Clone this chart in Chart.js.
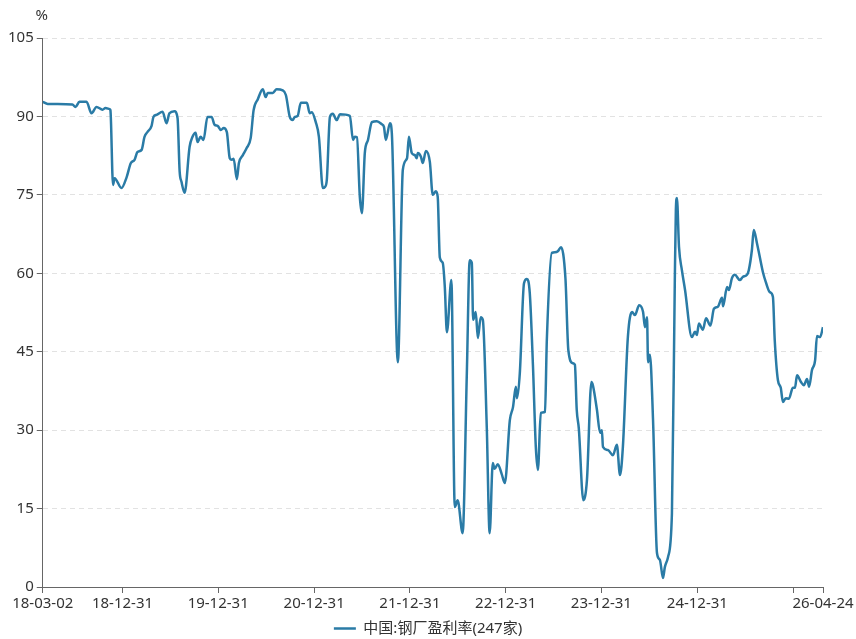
<!DOCTYPE html>
<html lang="zh">
<head>
    <meta charset="UTF-8">
    <title>中国:钢厂盈利率(247家)</title>
    <script src="https://cdn.jsdelivr.net/npm/chart.js"></script>
    <style>
        body {
            margin: 0;
            padding: 0;
            background: #fff;
        }
        #wrap {
            width: 856px;
            height: 639px;
        }
    </style>
</head>
<body>
    <div id="wrap"><canvas id="chart"></canvas></div>

    <script>
        // series name and unit
        const seriesName = '中国:钢厂盈利率(247家)';
        const unitLabel = '%';

        // x axis ticks (dates) and the labels shown under them
        const xTickDates = ['2018-03-02', '2018-12-31', '2019-12-31', '2020-12-31', '2021-12-31',
            '2022-12-31', '2023-12-31', '2024-12-31', '2025-12-31', '2026-04-24'];
        const xTickLabels = ['18-03-02', '18-12-31', '19-12-31', '20-12-31', '21-12-31',
            '22-12-31', '23-12-31', '24-12-31', '', '26-04-24'];

        // y axis
        const yMin = 0;
        const yMax = 105;
        const yStep = 15;

        const dates = [
            '2018-03-02', '2018-03-21', '2018-06-23', '2018-07-05', '2018-07-20', '2018-08-16', '2018-09-04',
            '2018-09-23', '2018-10-16', '2018-10-27', '2018-11-12', '2018-11-15', '2018-11-25', '2018-12-01',
            '2018-12-27', '2019-01-16', '2019-02-01', '2019-02-15', '2019-02-26', '2019-03-14', '2019-03-25',
            '2019-04-05', '2019-04-21', '2019-04-28', '2019-05-10', '2019-06-02', '2019-06-17', '2019-06-28',
            '2019-07-17', '2019-07-29', '2019-08-06', '2019-08-13', '2019-08-25', '2019-09-13', '2019-09-24',
            '2019-10-06', '2019-10-13', '2019-10-25', '2019-11-05', '2019-11-20', '2019-12-06', '2019-12-17',
            '2019-12-29', '2020-01-10', '2020-01-21', '2020-02-02', '2020-02-13', '2020-02-21', '2020-02-28',
            '2020-03-11', '2020-03-19', '2020-04-03', '2020-04-18', '2020-05-03', '2020-05-14', '2020-05-30',
            '2020-06-18', '2020-06-29', '2020-07-07', '2020-07-26', '2020-08-10', '2020-09-02', '2020-09-14',
            '2020-09-29', '2020-10-10', '2020-10-18', '2020-10-29', '2020-11-10', '2020-12-03', '2020-12-14',
            '2020-12-22', '2021-01-06', '2021-01-18', '2021-02-02', '2021-02-10', '2021-02-17', '2021-03-01',
            '2021-03-12', '2021-03-27', '2021-04-08', '2021-05-16', '2021-05-28', '2021-06-04', '2021-06-12',
            '2021-06-23', '2021-07-01', '2021-07-12', '2021-07-24', '2021-08-08', '2021-08-27', '2021-09-15',
            '2021-09-23', '2021-09-30', '2021-10-16', '2021-10-23', '2021-11-15', '2021-12-04', '2021-12-20',
            '2021-12-27', '2022-01-07', '2022-01-19', '2022-01-26', '2022-01-30', '2022-02-11', '2022-02-18',
            '2022-03-02', '2022-03-17', '2022-03-28', '2022-04-09', '2022-04-16', '2022-04-24', '2022-05-05',
            '2022-05-13', '2022-05-21', '2022-06-07', '2022-06-20', '2022-07-01', '2022-07-20', '2022-08-05',
            '2022-08-16', '2022-08-24', '2022-08-29', '2022-09-08', '2022-09-16', '2022-09-27', '2022-10-05',
            '2022-10-20', '2022-10-31', '2022-11-12', '2022-11-19', '2022-12-01', '2022-12-16', '2022-12-28',
            '2023-01-16', '2023-01-28', '2023-02-08', '2023-02-12', '2023-02-23', '2023-03-11', '2023-03-22',
            '2023-04-02', '2023-04-14', '2023-04-25', '2023-05-03', '2023-05-14', '2023-05-30', '2023-06-06',
            '2023-06-25', '2023-07-07', '2023-07-18', '2023-07-30', '2023-08-16', '2023-08-27', '2023-09-13',
            '2023-09-21', '2023-09-28', '2023-10-06', '2023-10-23', '2023-11-06', '2023-11-23', '2023-11-29',
            '2023-12-14', '2023-12-26', '2024-01-02', '2024-01-06', '2024-01-25', '2024-02-13', '2024-02-28',
            '2024-03-11', '2024-03-22', '2024-04-10', '2024-04-26', '2024-05-07', '2024-05-23', '2024-06-07',
            '2024-06-14', '2024-06-22', '2024-06-26', '2024-07-03', '2024-07-15', '2024-07-30', '2024-08-10',
            '2024-08-22', '2024-08-29', '2024-09-10', '2024-09-25', '2024-10-06', '2024-10-10', '2024-10-14',
            '2024-10-22', '2024-11-02', '2024-11-14', '2024-12-10', '2024-12-22', '2024-12-29', '2025-01-06',
            '2025-01-21', '2025-02-02', '2025-02-19', '2025-03-04', '2025-03-19', '2025-04-04', '2025-04-08',
            '2025-04-23', '2025-04-30', '2025-05-12', '2025-05-23', '2025-06-11', '2025-06-22', '2025-07-08',
            '2025-07-15', '2025-07-27', '2025-08-03', '2025-08-15', '2025-08-26', '2025-09-07', '2025-09-18',
            '2025-10-03', '2025-10-15', '2025-10-22', '2025-11-03', '2025-11-14', '2025-11-22', '2025-12-03',
            '2025-12-15', '2025-12-30', '2026-01-07', '2026-01-15', '2026-01-30', '2026-02-10', '2026-02-22',
            '2026-03-02', '2026-03-13', '2026-03-25', '2026-04-01', '2026-04-13', '2026-04-24'
        ];

        // profit rate, %
        const values = [
            92.8, 92.4, 92.3, 91.8, 92.8, 92.8, 90.6,
            91.8, 91.3, 91.6, 91.4, 91.2, 76.9, 78.2,
            76.3, 78.4, 81.1, 81.7, 83.2, 83.6, 86.1,
            87.0, 88.2, 89.9, 90.3, 90.9, 88.7, 90.6,
            91.0, 89.7, 79.5, 77.5, 75.4, 84.2, 86.1,
            86.9, 85.1, 86.1, 85.5, 89.9, 89.9, 88.4,
            88.2, 87.4, 87.8, 87.0, 82.0, 81.7, 81.9,
            78.0, 81.1, 82.6, 84.0, 85.9, 91.2, 93.3,
            95.2, 93.7, 94.5, 94.5, 95.2, 95.0, 94.1,
            89.9, 89.3, 89.9, 90.1, 92.6, 92.6, 90.6,
            90.8, 88.9, 86.1, 76.3, 76.5, 77.8, 89.9,
            90.5, 89.3, 90.4, 90.1, 85.5, 86.1, 86.0,
            74.6, 71.5, 83.0, 85.5, 88.9, 89.1, 88.5,
            88.0, 85.5, 88.7, 86.8, 43.0, 79.8, 82.0,
            86.1, 83.0, 82.6, 82.0, 83.0, 82.3, 81.1,
            83.4, 81.3, 75.0, 75.7, 74.6, 63.0, 62.0,
            57.4, 48.7, 58.7, 15.3, 16.6, 10.3, 40.9,
            62.5, 62.0, 51.1, 52.6, 47.6, 51.6, 51.1,
            30.6, 10.3, 23.7, 22.6, 23.5, 21.6, 19.9,
            31.9, 34.4, 38.3, 36.1, 40.9, 58.1, 58.9,
            56.2, 42.5, 26.8, 22.4, 33.3, 33.5, 47.2,
            63.9, 64.0, 64.2, 65.0, 59.0, 45.3, 42.8,
            42.5, 33.9, 30.3, 16.6, 20.5, 39.2, 38.5,
            33.9, 29.5, 30.0, 26.8, 26.2, 25.2, 27.2,
            21.4, 26.8, 47.8, 52.6, 52.0, 53.9, 52.6,
            49.7, 51.6, 43.0, 44.4, 31.9, 6.5, 5.2,
            1.7, 3.8, 5.7, 14.1, 58.7, 72.1, 74.4,
            65.0, 60.6, 56.8, 47.8, 48.8, 48.2, 50.4,
            49.2, 51.4, 50.0, 53.2, 53.6, 55.3, 53.7,
            57.4, 56.8, 59.1, 59.7, 58.7, 59.3, 59.7,
            60.6, 64.5, 68.3, 65.8, 63.1, 60.2, 58.3,
            56.4, 55.5, 47.2, 39.6, 38.1, 35.4, 36.1,
            36.0, 38.1, 38.1, 40.5, 39.2, 38.6, 39.8,
            38.3, 41.5, 43.4, 48.0, 47.8, 49.7
        ];

        const lineColor = '#2a7ba6';
        const fontFamily = "'Noto Sans', 'Noto Sans CJK SC', sans-serif";

        function toTs(s) {
            const p = s.split('-').map(Number);
            return Date.UTC(p[0], p[1] - 1, p[2]);
        }

        const tickTs = xTickDates.map(toTs);
        const points = dates.map((d, i) => ({ x: toTs(d), y: values[i] }));

        // draws the unit above the y axis, and centres the legend on the canvas
        const unitPlugin = {
            id: 'unitLabel',
            afterLayout(chart) {
                const lg = chart.legend;
                if (lg) {
                    lg.left = 0;
                    lg.right = chart.width;
                }
            },
            afterDraw(chart) {
                const ctx = chart.ctx;
                ctx.save();
                ctx.font = '15px ' + fontFamily;
                ctx.fillStyle = '#333';
                ctx.textAlign = 'center';
                ctx.textBaseline = 'middle';
                ctx.fillText(unitLabel, chart.chartArea.left - 1, 16);
                ctx.restore();
            }
        };

        new Chart(document.getElementById('chart'), {
            type: 'line',
            data: {
                datasets: [{
                    label: seriesName,
                    data: points,
                    borderColor: lineColor,
                    backgroundColor: lineColor,
                    borderWidth: 2.5,
                    pointRadius: 0,
                    cubicInterpolationMode: 'monotone',
                    fill: false
                }]
            },
            options: {
                responsive: true,
                maintainAspectRatio: false,
                animation: false,
                layout: {
                    padding: { left: 5, right: 33, top: 38, bottom: -7 }
                },
                scales: {
                    x: {
                        type: 'linear',
                        min: tickTs[0],
                        max: tickTs[tickTs.length - 1],
                        afterBuildTicks: axis => {
                            axis.ticks = tickTs.map(v => ({ value: v }));
                        },
                        ticks: {
                            autoSkip: false,
                            maxRotation: 0,
                            minRotation: 0,
                            padding: 2,
                            color: '#333',
                            font: { family: fontFamily, size: 15 },
                            callback: value => {
                                const i = tickTs.indexOf(value);
                                return i >= 0 ? xTickLabels[i] : '';
                            }
                        },
                        grid: {
                            drawOnChartArea: false,
                            drawTicks: true,
                            tickLength: 6,
                            tickColor: '#666'
                        },
                        border: { color: '#666', width: 1 }
                    },
                    y: {
                        min: yMin,
                        max: yMax,
                        ticks: {
                            stepSize: yStep,
                            padding: 3,
                            color: '#333',
                            font: { family: fontFamily, size: 15 }
                        },
                        grid: {
                            color: '#e2e2e2',
                            tickLength: 6,
                            tickColor: '#666'
                        },
                        border: { color: '#666', width: 1, dash: [5, 4] }
                    }
                },
                plugins: {
                    legend: {
                        position: 'bottom',
                        labels: {
                            usePointStyle: true,
                            pointStyle: 'line',
                            pointStyleWidth: 22,
                            color: '#333',
                            padding: 6,
                            font: { family: fontFamily, size: 15 }
                        }
                    },
                    tooltip: { enabled: false }
                }
            },
            plugins: [unitPlugin]
        });
    </script>
</body>
</html>
